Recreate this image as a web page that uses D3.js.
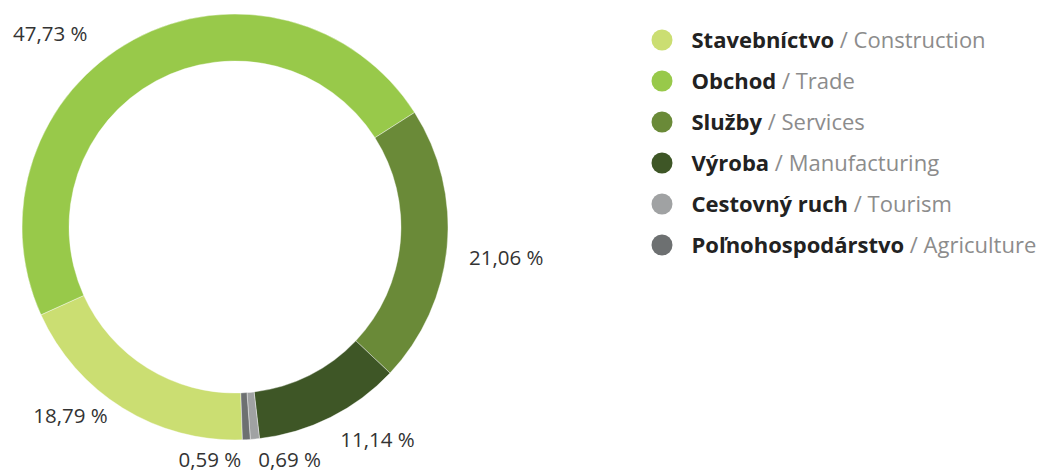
<!DOCTYPE html>
<html>
<head>
<meta charset="utf-8">
<script src="https://cdn.jsdelivr.net/npm/d3@7"></script>
<style>
  html, body { margin: 0; padding: 0; background: #fff; }
  svg { display: block; font-family: "Open Sans", sans-serif; }
</style>
</head>
<body>
<svg id="chart" width="1040" height="472"></svg>
<script>
const categories = ['Stavebníctvo', 'Obchod', 'Služby', 'Výroba', 'Cestovný ruch', 'Poľnohospodárstvo'];
const categoriesEn = ['Construction', 'Trade', 'Services', 'Manufacturing', 'Tourism', 'Agriculture'];
const shares = [18.79, 47.73, 21.06, 11.14, 0.69, 0.59];
const colors = ['#cbde72', '#98c94a', '#6a8a38', '#3e5626', '#a0a2a3', '#6d7071'];

// label nudges relative to a point just outside each slice
const labelLayout = [
  { anchor: 'end', dx: -7, dy: 2 },
  { anchor: 'end', dx: -39, dy: 14 },
  { anchor: 'start', dx: 7, dy: 17 },
  { anchor: 'start', dx: 3, dy: 16 },
  { anchor: 'start', dx: 2, dy: 13 },
  { anchor: 'end', dx: -6, dy: 12 }
];

const svg = d3.select('#chart');
const cx = 235, cy = 227;
const outerR = 213, innerR = 166, labelR = 228;
const start = 178 / 180 * Math.PI;

const pie = d3.pie()
  .sort(null)
  .value(d => d)
  .startAngle(start)
  .endAngle(start + 2 * Math.PI);

const arc = d3.arc().innerRadius(innerR).outerRadius(outerR);
const arcs = pie(shares);

const g = svg.append('g').attr('transform', `translate(${cx},${cy})`);

g.selectAll('path')
  .data(arcs)
  .join('path')
  .attr('d', arc)
  .attr('fill', (d, i) => colors[i])
  .attr('stroke', '#fff')
  .attr('stroke-width', 0.4);

const fmt = v => v.toFixed(2).replace('.', ',') + ' %';

g.selectAll('text.val')
  .data(arcs)
  .join('text')
  .attr('class', 'val')
  .each(function(d, i) {
    const a = (d.startAngle + d.endAngle) / 2;
    const L = labelLayout[i];
    d3.select(this)
      .attr('x', labelR * Math.sin(a) + L.dx)
      .attr('y', -labelR * Math.cos(a) + L.dy)
      .attr('text-anchor', L.anchor);
  })
  .attr('font-size', 20.5)
  .attr('fill', '#333')
  .text(d => fmt(d.data));

// legend
const legend = svg.append('g').attr('transform', 'translate(662,40)');
const rowH = 41;

const rows = legend.selectAll('g')
  .data(categories)
  .join('g')
  .attr('transform', (d, i) => `translate(0,${i * rowH})`);

rows.append('circle')
  .attr('r', 10.5)
  .attr('fill', (d, i) => colors[i]);

const txt = rows.append('text')
  .attr('x', 29.5)
  .attr('y', 7.5)
  .attr('font-size', 22);

txt.append('tspan')
  .attr('font-weight', 'bold')
  .attr('fill', '#222')
  .text(d => d);

txt.append('tspan')
  .attr('fill', '#8c8c8c')
  .text((d, i) => ' / ' + categoriesEn[i]);
</script>
</body>
</html>
